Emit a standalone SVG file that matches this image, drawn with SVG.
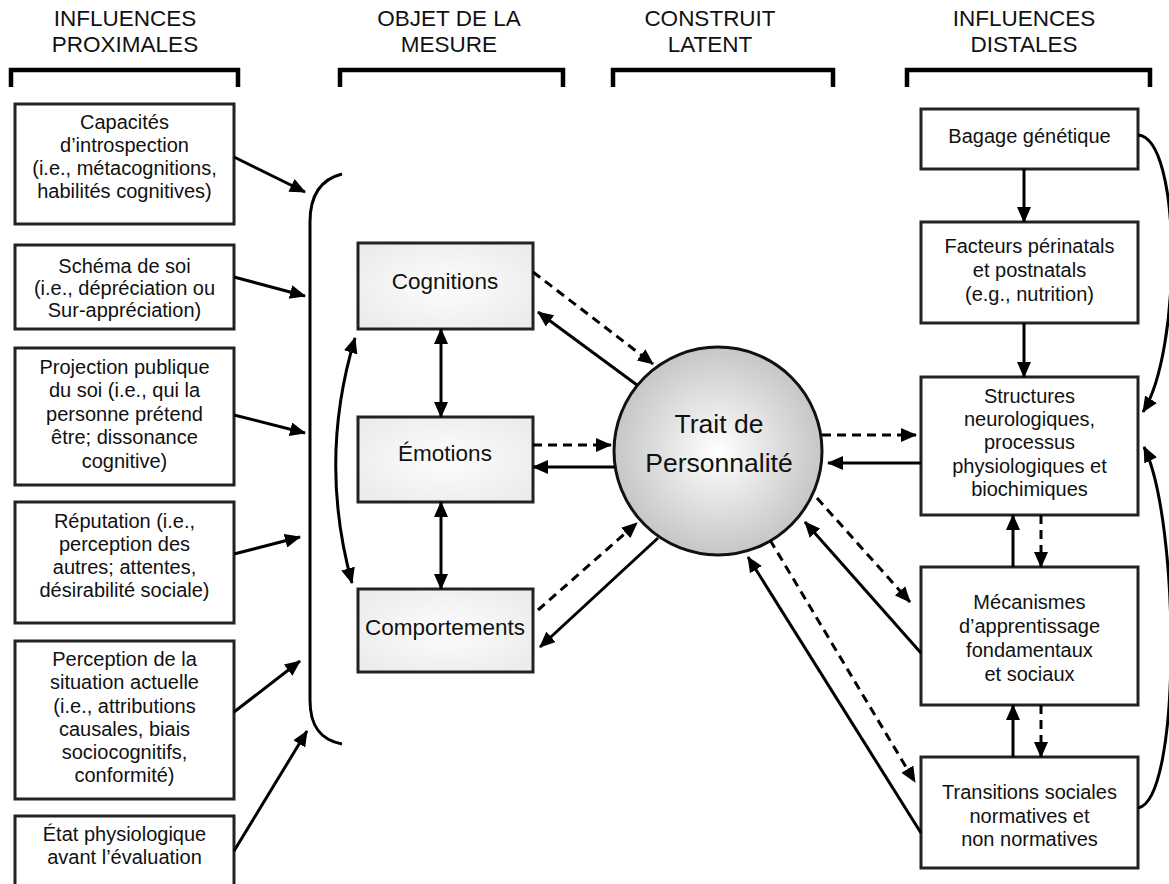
<svg xmlns="http://www.w3.org/2000/svg" width="1169" height="884" viewBox="0 0 1169 884">
<style>
.hdr{font-family:"Liberation Sans",Arial,sans-serif;font-size:22.5px;fill:#111;text-anchor:middle}
.t{font-family:"Liberation Sans",Arial,sans-serif;font-size:20px;fill:#111;text-anchor:middle}
.tm{font-family:"Liberation Sans",Arial,sans-serif;font-size:22.5px;fill:#111;text-anchor:middle}
.tc{font-family:"Liberation Sans",Arial,sans-serif;font-size:26.5px;fill:#111;text-anchor:middle}
.box{fill:#fff;stroke:#222;stroke-width:3}
.mbox{fill:url(#mg);stroke:#222;stroke-width:3}
.brk{fill:none;stroke:#000;stroke-width:4.5}
.ln{fill:none;stroke:#000;stroke-width:3}
.ds{fill:none;stroke:#000;stroke-width:3;stroke-dasharray:9 6}
.a{marker-end:url(#ah)}
.aa{marker-start:url(#ah);marker-end:url(#ah)}
</style>
<defs>
<marker id="ah" viewBox="0 0 16 14" refX="15" refY="7" markerWidth="16" markerHeight="14" markerUnits="userSpaceOnUse" orient="auto-start-reverse"><path d="M0,0 L16,7 L0,14 z" fill="#000"/></marker>
<radialGradient id="mg" cx="50%" cy="50%" r="60%"><stop offset="0" stop-color="#fdfdfd"/><stop offset="1" stop-color="#ececec"/></radialGradient>
<radialGradient id="cg" cx="50%" cy="50%" r="50%"><stop offset="0" stop-color="#ffffff"/><stop offset="1" stop-color="#c6c6c6"/></radialGradient>
</defs>

<g id="headers">
<text class="hdr" x="125" y="26">INFLUENCES</text>
<text class="hdr" x="125" y="51.5">PROXIMALES</text>
<text class="hdr" x="449" y="26">OBJET DE LA</text>
<text class="hdr" x="449" y="51.5">MESURE</text>
<text class="hdr" x="710" y="26">CONSTRUIT</text>
<text class="hdr" x="710" y="51.5">LATENT</text>
<text class="hdr" x="1024" y="26">INFLUENCES</text>
<text class="hdr" x="1024" y="51.5">DISTALES</text>
<path class="brk" d="M11,87 V70 H238 V87"/>
<path class="brk" d="M340,87 V70 H563 V87"/>
<path class="brk" d="M613,87 V70 H833 V87"/>
<path class="brk" d="M907,87 V70 H1150 V87"/>
</g>

<g id="p1"><rect class="box" x="15" y="104" width="219" height="120"/>
<text class="t" x="124.5" y="129">Capacités</text><text class="t" x="124.5" y="152">d’introspection</text><text class="t" x="124.5" y="175">(i.e., métacognitions,</text><text class="t" x="124.5" y="198">habilités cognitives)</text></g>
<g id="p2"><rect class="box" x="15" y="245" width="219" height="84"/>
<text class="t" x="124.5" y="273">Schéma de soi</text><text class="t" x="124.5" y="295">(i.e., dépréciation ou</text><text class="t" x="124.5" y="317">Sur-appréciation)</text></g>
<g id="p3"><rect class="box" x="15" y="348" width="219" height="137"/>
<text class="t" x="124.5" y="374">Projection publique</text><text class="t" x="124.5" y="397">du soi (i.e., qui la</text><text class="t" x="124.5" y="421">personne prétend</text><text class="t" x="124.5" y="444">être; dissonance</text><text class="t" x="124.5" y="468">cognitive)</text></g>
<g id="p4"><rect class="box" x="15" y="502" width="219" height="121"/>
<text class="t" x="124.5" y="528">Réputation (i.e.,</text><text class="t" x="124.5" y="551">perception des</text><text class="t" x="124.5" y="574">autres; attentes,</text><text class="t" x="124.5" y="597">désirabilité sociale)</text></g>
<g id="p5"><rect class="box" x="15" y="641" width="219" height="158"/>
<text class="t" x="124.5" y="666">Perception de la</text><text class="t" x="124.5" y="689">situation actuelle</text><text class="t" x="124.5" y="713">(i.e., attributions</text><text class="t" x="124.5" y="736">causales, biais</text><text class="t" x="124.5" y="759">sociocognitifs,</text><text class="t" x="124.5" y="782">conformité)</text></g>
<g id="p6"><rect class="box" x="15" y="816" width="219" height="80"/>
<text class="t" x="124.5" y="841">État physiologique</text><text class="t" x="124.5" y="864">avant l’évaluation</text></g>

<g id="bracket"><path class="ln" d="M342,174 C318,180 310,198 310,222 L310,700 C310,726 320,740 342,744"/></g>

<g id="cognitions"><rect class="mbox" x="358" y="243" width="175" height="86"/><text class="tm" x="445" y="289">Cognitions</text></g>
<g id="emotions"><rect class="mbox" x="358" y="417" width="175" height="85"/><text class="tm" x="445" y="461">Émotions</text></g>
<g id="comportements"><rect class="mbox" x="358" y="589" width="175" height="83"/><text class="tm" x="445" y="635">Comportements</text></g>

<g id="trait"><circle cx="718" cy="451" r="104" fill="url(#cg)" stroke="#111" stroke-width="3"/>
<text class="tc" x="719" y="433">Trait de</text><text class="tc" x="719" y="472">Personnalité</text></g>

<g id="d1"><rect class="box" x="921" y="109" width="217" height="60"/><text class="t" x="1029.5" y="143">Bagage génétique</text></g>
<g id="d2"><rect class="box" x="921" y="222" width="217" height="101"/>
<text class="t" x="1029.5" y="253">Facteurs périnatals</text><text class="t" x="1029.5" y="277">et postnatals</text><text class="t" x="1029.5" y="301">(e.g., nutrition)</text></g>
<g id="d3"><rect class="box" x="921" y="377" width="217" height="138"/>
<text class="t" x="1029.5" y="403">Structures</text><text class="t" x="1029.5" y="426">neurologiques,</text><text class="t" x="1029.5" y="449">processus</text><text class="t" x="1029.5" y="473">physiologiques et</text><text class="t" x="1029.5" y="496">biochimiques</text></g>
<g id="d4"><rect class="box" x="921" y="567" width="217" height="138"/>
<text class="t" x="1029.5" y="609">Mécanismes</text><text class="t" x="1029.5" y="633">d’apprentissage</text><text class="t" x="1029.5" y="657">fondamentaux</text><text class="t" x="1029.5" y="681">et sociaux</text></g>
<g id="d5"><rect class="box" x="921" y="757" width="217" height="111"/>
<text class="t" x="1029.5" y="799">Transitions sociales</text><text class="t" x="1029.5" y="823">normatives et</text><text class="t" x="1029.5" y="846">non normatives</text></g>

<g id="connectors">
<path class="ln a" d="M234,157 L305,192"/>
<path class="ln a" d="M234,277 L305,296"/>
<path class="ln a" d="M234,415 L305,433"/>
<path class="ln a" d="M234,554 L300,537"/>
<path class="ln a" d="M234,712 L300,661"/>
<path class="ln a" d="M234,851 L307,731"/>

<path class="ln aa" d="M441,329 L441,417"/>
<path class="ln aa" d="M441,502 L441,589"/>
<path class="ln aa" d="M355,338 Q318,460 352,583"/>

<path class="ds a" d="M533,272 L653,364"/>
<path class="ln a" d="M637,385 L538,312"/>
<path class="ds a" d="M533,445 L611,445"/>
<path class="ln a" d="M615,467 L533,467"/>
<path class="ds a" d="M538,610 L637,523"/>
<path class="ln a" d="M658,538 L540,647"/>

<path class="ds a" d="M822,435 L916,435"/>
<path class="ln a" d="M921,463 L828,463"/>
<path class="ds a" d="M817,498 L910,602"/>
<path class="ln a" d="M921,653 L805,522"/>
<path class="ds a" d="M770,540 L915,782"/>
<path class="ln a" d="M921,833 L748,557"/>

<path class="ln a" d="M1024,169 L1024,222"/>
<path class="ln a" d="M1024,323 L1024,377"/>
<path class="ln a" d="M1013,567 L1013,515"/>
<path class="ds a" d="M1041,515 L1041,567"/>
<path class="ln a" d="M1013,757 L1013,705"/>
<path class="ds a" d="M1041,705 L1041,757"/>

<path class="ln a" d="M1138,135 C1182,138 1182,350 1143,412"/>
<path class="ln a" d="M1138,808 C1182,800 1180,520 1144,447"/>
</g>
</svg>
